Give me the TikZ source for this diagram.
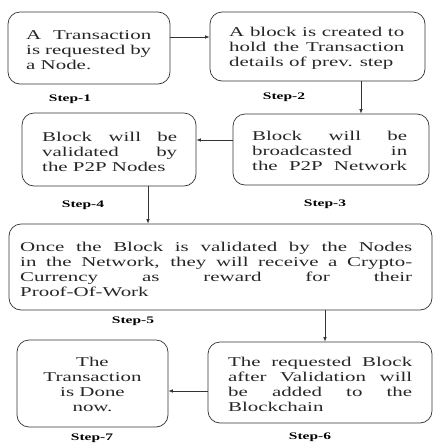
\documentclass[tikz,border=0pt]{standalone}
\usepackage{fontspec}
\setmainfont{Liberation Serif}[FakeStretch=1.55]
\usetikzlibrary{arrows.meta}

% a justified line of fixed width
\newcommand{\jline}[2]{\makebox[#1][s]{#2}}

\begin{document}
\begin{tikzpicture}[x=1pt, y=-1pt,
  stepbox/.style={draw=black!80, line width=0.7pt, rounded corners=12pt,
    inner sep=0pt, minimum width=#1},
  txt/.style={inner sep=0pt, align=left, text=black!85,
    font=\fontsize{13.5}{15}\selectfont},
  steplabel/.style={inner sep=0pt, font=\fontsize{10}{12}\selectfont\bfseries},
  link/.style={draw=black!80, line width=0.7pt},
  arr/.style={link, -{Latex[length=4.5pt, width=3.5pt]}}]

\useasboundingbox (0,0) rectangle (433,448);

% boxes
\node[stepbox=162pt, minimum height=72pt] (b1) at (89,48) {};
\node[stepbox=215pt, minimum height=69pt] (b2) at (317.5,46.5) {};
\node[stepbox=196pt, minimum height=71pt] (b3) at (331,149.5) {};
\node[stepbox=174pt, minimum height=73pt] (b4) at (109,149.5) {};
\node[stepbox=423pt, minimum height=86pt] (b5) at (220.5,267) {};
\node[stepbox=224pt, minimum height=81pt] (b6) at (320,382.5) {};
\node[stepbox=151pt, minimum height=87pt] (b7) at (92.5,383.5) {};

% box texts
\node[txt, anchor=west] (t1) at (26,50)
  {\jline{125pt}{A Transaction}\\ \jline{125pt}{is requested by}\\ a Node.};
\node[txt, anchor=west] (t2) at (229,48)
  {\jline{175pt}{A block is created to}\\ \jline{175pt}{hold the Transaction}\\ details of prev. step};
\node[txt, anchor=west] (t3) at (252,151)
  {\jline{155pt}{Block will be}\\ \jline{155pt}{broadcasted in}\\ \jline{155pt}{the P2P Network}};
\node[txt, anchor=west] (t4) at (42,152)
  {\jline{135pt}{Block will be}\\ \jline{135pt}{validated by}\\ the P2P Nodes};
\node[txt, anchor=west] (t5) at (20,269.5)
  {\jline{392pt}{Once the Block is validated by the Nodes}\\
   \jline{392pt}{in the Network, they will receive a Crypto-}\\
   \jline{392pt}{Currency as reward for their}\\
   Proof-Of-Work};
\node[txt, anchor=west] (t6) at (228,384.5)
  {\jline{184pt}{The requested Block}\\ \jline{184pt}{after Validation will}\\
   \jline{184pt}{be added to the}\\ Blockchain};
\node[txt, align=center] (t7) at (92.5,384.5)
  {The\\ Transaction\\ is Done\\ now.};

% step labels
\node[steplabel] (s1) at (70,99) {Step-1};
\node[steplabel] (s2) at (284,97) {Step-2};
\node[steplabel] (s3) at (325,204) {Step-3};
\node[steplabel] (s4) at (83,205) {Step-4};
\node[steplabel] (s5) at (133,321) {Step-5};
\node[steplabel] (s6) at (310,437) {Step-6};
\node[steplabel] (s7) at (92,438) {Step-7};

% guide positions for the connectors
\coordinate (r12) at (0,37);
\coordinate (c23) at (361,0);
\coordinate (r34) at (0,140);
\coordinate (c45) at (148,0);
\coordinate (c56) at (325,0);
\coordinate (r67) at (0,391);

% connectors
\draw[arr] (b1.east |- r12) -- (b2.west |- r12);
\draw[arr] (b2.south -| c23) -- (b3.north -| c23);
\draw[arr] (b3.west |- r34) -- (b4.east |- r34);
\draw[arr] (b4.south -| c45) -- (b5.north -| c45);
\draw[arr] (b5.south -| c56) -- (b6.north -| c56);
\draw[arr] (b6.west |- r67) -- (b7.east |- r67);
\end{tikzpicture}
\end{document}
